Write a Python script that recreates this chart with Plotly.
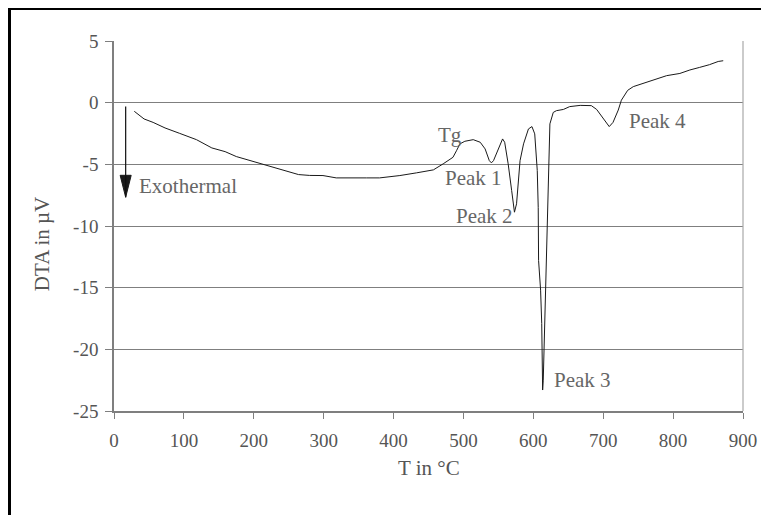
import plotly.graph_objects as go

# ---- data ----
temperature = [29, 36, 43, 56, 73, 94, 118, 140, 159, 175, 199, 218, 242, 264, 280, 299, 318, 342, 361, 380,
               409, 433, 457, 471, 485, 490, 495, 502, 514, 524, 531, 537, 540, 543, 550, 556, 559, 564, 569,
               573, 576, 581, 586, 593, 598, 602, 605.6, 607, 607.5, 610.4, 612, 613.3, 614.2, 616.6, 618,
               620, 621.3, 621.8, 623.7, 628.5, 633, 643, 652, 667, 683, 690.6, 700, 708.6, 714, 721.5, 726,
               731, 735, 743, 757, 771.5, 790.7, 809.7, 824, 838, 852, 864.5, 871.7]
dta = [-0.70, -1.0, -1.32, -1.60, -2.05, -2.49, -3.00, -3.67, -3.97, -4.37, -4.78, -5.10, -5.50, -5.83, -5.90,
       -5.91, -6.10, -6.13, -6.10, -6.10, -5.91, -5.69, -5.45, -4.96, -4.43, -3.90, -3.34, -3.13, -3.00, -3.21,
       -3.75, -4.70, -4.88, -4.70, -3.75, -2.94, -3.21, -4.96, -7.13, -8.88, -8.20, -4.70, -3.34, -2.13, -1.94,
       -2.53, -5.50, -8.5, -12.8, -15.2, -17.9, -23.3, -22.5, -17.1, -13.0, -9.8, -6.3, -3.9, -1.72, -0.79,
       -0.65, -0.55, -0.32, -0.22, -0.24, -0.55, -1.32, -1.94, -1.60, -0.60, 0.2, 0.7, 1.0, 1.30, 1.58, 1.85,
       2.19, 2.37, 2.65, 2.86, 3.08, 3.34, 3.40]

x_ticks = [0, 100, 200, 300, 400, 500, 600, 700, 800, 900]
y_ticks = [5, 0, -5, -10, -15, -20, -25]
y_tick_text = ["5", "0", "-5", "-10", "-15", "-20", "-25"]

# annotation labels: (text, T, DTA) left-anchored
labels = ["Tg", "Peak 1", "Peak 2", "Peak 3", "Peak 4", "Exothermal"]
label_x = [460.6, 471, 486.8, 626, 733.5, 32.5]
label_y = [-2.59, -6.14, -9.15, -22.5, -1.46, -6.76]

arrow_x = 16.7
arrow_top = -0.19
arrow_tip = -7.67

FONT = "Liberation Serif, Times New Roman, serif"

fig = go.Figure()
fig.add_trace(go.Scatter(x=temperature, y=dta, mode="lines",
                         line=dict(color="#1a1a1a", width=1), showlegend=False, hoverinfo="skip"))

ann = []
for t, lx, ly in zip(labels, label_x, label_y):
    ann.append(dict(x=lx, y=ly, xref="x", yref="y", text=t, showarrow=False,
                    xanchor="left", yanchor="middle",
                    font=dict(family=FONT, size=21, color="#666666")))
# exothermal arrow
ann.append(dict(x=arrow_x, y=arrow_tip, ax=arrow_x, ay=arrow_top, xref="x", yref="y",
                axref="x", ayref="y", text="", showarrow=True, arrowhead=0, arrowwidth=1.2,
                arrowcolor="#111111"))
# axis titles
ann.append(dict(x=450, y=-0.155, xref="x", yref="paper", text="T in °C", showarrow=False,
                xanchor="center", yanchor="middle", font=dict(family=FONT, size=21, color="#555555")))
ann.append(dict(x=-0.115, y=-11.5, xref="paper", yref="y", text="DTA in µV", showarrow=False,
                textangle=-90, xanchor="center", yanchor="middle",
                font=dict(family=FONT, size=21, color="#555555")))

# figure sits 8px into the page; plot area in figure pixels: left 106, right 735, top 33, bottom 403
W, H = 761, 507
L, R, T, B = 106, 26, 33, 104
pw, ph = W - L - R, H - T - B

def px_to_paper_x(px):
    return (px - L) / pw

def px_to_paper_y(py):
    return (H - B - py) / ph

shapes = [
    # arrow head (filled triangle)
    dict(type="path", xref="x", yref="y",
         path=f"M {arrow_x-7.9},{arrow_tip+1.78} L {arrow_x+7.9},{arrow_tip+1.78} L {arrow_x},{arrow_tip} Z",
         fillcolor="#1a1a1a", line=dict(color="#1a1a1a", width=1)),
    # right border of the plot area
    dict(type="line", xref="paper", yref="paper", x0=1, x1=1, y0=0, y1=1,
         line=dict(color="#a8a8a8", width=1.2)),
    # outer black frame (left and top edges visible)
    dict(type="line", xref="paper", yref="paper", x0=px_to_paper_x(1.5), x1=px_to_paper_x(1.5),
         y0=px_to_paper_y(0), y1=px_to_paper_y(560), line=dict(color="#000000", width=3)),
    dict(type="line", xref="paper", yref="paper", x0=px_to_paper_x(0), x1=px_to_paper_x(820),
         y0=px_to_paper_y(0.5), y1=px_to_paper_y(0.5), line=dict(color="#000000", width=3)),
]

fig.update_layout(
    width=W, height=H, margin=dict(l=L, r=R, t=T, b=B, pad=0),
    paper_bgcolor="white", plot_bgcolor="white",
    annotations=ann, shapes=shapes,
    xaxis=dict(range=[0, 900], tickvals=x_ticks, showgrid=False, zeroline=False,
               showline=True, linecolor="#7f7f7f", linewidth=1.5,
               ticks="outside", ticklen=6, tickcolor="#7f7f7f", tickwidth=1.2,
               ticklabelstandoff=5,
               tickfont=dict(family=FONT, size=19, color="#555555")),
    yaxis=dict(range=[-25, 5], tickvals=y_ticks, ticktext=y_tick_text, showgrid=True,
               gridcolor="#7f7f7f", gridwidth=1.2, zeroline=False,
               showline=True, linecolor="#7f7f7f", linewidth=1.5,
               ticks="outside", ticklen=7, tickcolor="#7f7f7f", tickwidth=1.2,
               ticklabelstandoff=3,
               tickfont=dict(family=FONT, size=19, color="#555555")),
)

fig.write_html("out.html")
